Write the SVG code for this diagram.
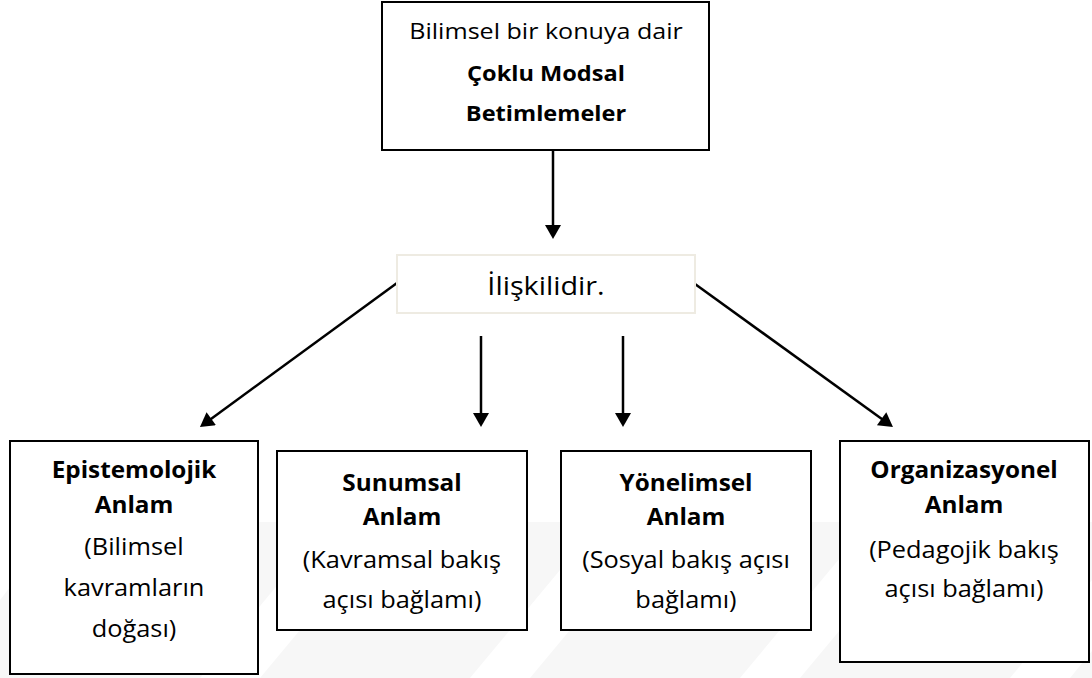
<svg xmlns="http://www.w3.org/2000/svg" width="1092" height="678" viewBox="0 0 1092 678">
  <style>
    .box { fill: #ffffff; stroke: #000000; stroke-width: 2; }
    .mid { fill: #ffffff; stroke: #eeebe2; stroke-width: 2; }
    .t { font-family: "Open Sans", Lato, "Liberation Sans", sans-serif; fill: #000000; text-anchor: middle; }
    .reg { font-size: 23.5px; font-weight: 400; }
    .bold { font-size: 22.5px; font-weight: 700; }
    .topr { font-size: 21.8px; font-weight: 400; }
    .topb { font-size: 20.5px; font-weight: 700; }
    .conn { stroke: #000000; stroke-width: 2.5; fill: none; marker-end: url(#arrow); }
    .wm { fill: #f7f7f7; }
  </style>
  <defs>
    <marker id="arrow" markerUnits="userSpaceOnUse" markerWidth="16" markerHeight="16" viewBox="0 0 14 16" refX="8" refY="8" orient="auto">
      <path d="M0,0 L14,8 L0,16 z" fill="#000000"/>
    </marker>
  </defs>

  <rect width="1092" height="678" fill="#ffffff"/>

  <g id="watermark">
    <path class="wm" d="M0,522 L1092,522 L1092,678 L0,678 z"/>
    <path d="M200,678 L260,678 L390,522 L330,522 z M470,678 L530,678 L660,522 L600,522 z M740,678 L800,678 L930,522 L870,522 z M1010,678 L1070,678 L1092,651 L1092,580 z M0,600 L0,522 L60,522 z" fill="#ffffff"/>
  </g>

  <g id="connectors">
    <line class="conn" x1="553" y1="150" x2="553" y2="233"/>
    <line class="conn" x1="397" y1="283" x2="204.8" y2="423.4"/>
    <line class="conn" x1="481" y1="336" x2="481" y2="421"/>
    <line class="conn" x1="623" y1="336" x2="623" y2="421"/>
    <line class="conn" x1="695" y1="284" x2="888.1" y2="423.5"/>
  </g>

  <g id="node-top">
    <rect class="box" x="382" y="2" width="327" height="148"/>
    <g transform="matrix(1.15,0,0,1,-81.9,0)">
      <text class="t topr" x="546" y="39">Bilimsel bir konuya dair</text>
      <text class="t topb" x="546" y="81">Çoklu Modsal</text>
      <text class="t topb" x="546" y="121">Betimlemeler</text>
    </g>
  </g>

  <g id="node-iliskilidir">
    <rect class="mid" x="397" y="255" width="298" height="58"/>
    <g transform="matrix(1.15,0,0,1,-81.9,0)">
      <text class="t" x="546" y="295" font-size="25">İlişkilidir.</text>
    </g>
  </g>

  <g id="node-epistemolojik">
    <rect class="box" x="10" y="441" width="248" height="233"/>
    <g transform="matrix(1.08,0,0,1,-10.72,0)">
      <text class="t bold" x="134" y="478">Epistemolojik</text>
      <text class="t bold" x="134" y="513">Anlam</text>
      <text class="t reg" x="134" y="555">(Bilimsel</text>
      <text class="t reg" x="134" y="596">kavramların</text>
      <text class="t reg" x="134" y="637">doğası)</text>
    </g>
  </g>

  <g id="node-sunumsal">
    <rect class="box" x="277" y="451" width="250" height="179"/>
    <g transform="matrix(1.08,0,0,1,-32.16,0)">
      <text class="t bold" x="402" y="491">Sunumsal</text>
      <text class="t bold" x="402" y="525">Anlam</text>
      <text class="t reg" x="402" y="568">(Kavramsal bakış</text>
      <text class="t reg" x="402" y="608">açısı bağlamı)</text>
    </g>
  </g>

  <g id="node-yonelimsel">
    <rect class="box" x="561" y="451" width="250" height="179"/>
    <g transform="matrix(1.08,0,0,1,-54.88,0)">
      <text class="t bold" x="686" y="491">Yönelimsel</text>
      <text class="t bold" x="686" y="525">Anlam</text>
      <text class="t reg" x="686" y="568">(Sosyal bakış açısı</text>
      <text class="t reg" x="686" y="608">bağlamı)</text>
    </g>
  </g>

  <g id="node-organizasyonel">
    <rect class="box" x="840" y="441" width="249" height="221"/>
    <g transform="matrix(1.08,0,0,1,-77.12,0)">
      <text class="t bold" x="964" y="478">Organizasyonel</text>
      <text class="t bold" x="964" y="513">Anlam</text>
      <text class="t reg" x="964" y="558">(Pedagojik bakış</text>
      <text class="t reg" x="964" y="597">açısı bağlamı)</text>
    </g>
  </g>
</svg>
